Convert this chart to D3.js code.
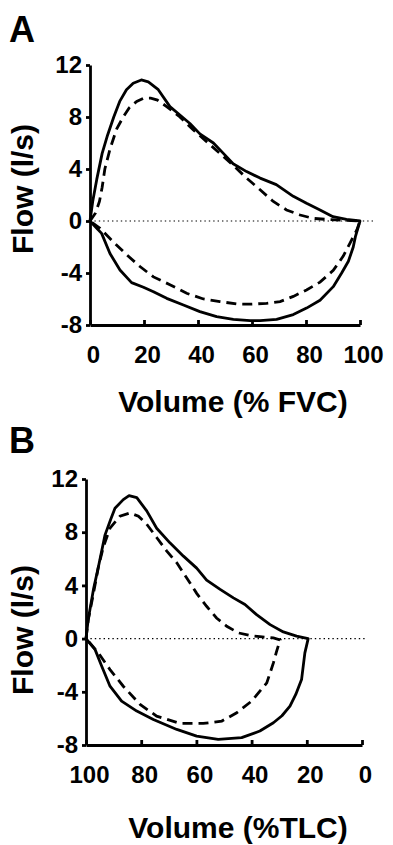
<!DOCTYPE html>
<html>
<head>
<meta charset="utf-8">
<script src="https://cdn.jsdelivr.net/npm/d3@7"></script>
<style>
  body { margin: 0; background: #fff; }
  svg text { font-family: "Liberation Sans", Arial, sans-serif; font-weight: bold; fill: #000; }
</style>
</head>
<body>
<svg id="chart" width="393" height="845"></svg>
<script>
const flowTicks = [-8, -4, 0, 4, 8, 12];
const volTicks = [0, 20, 40, 60, 80, 100];

// panel A, volume in % FVC: [volume, flow]
const aSolidExp = [[0,0],[1,1.5],[2.5,3.2],[4.5,5.2],[6.5,6.6],[8.8,8.0],[11,9.2],[13.5,10.1],[16,10.6],[19,10.85],[21.6,10.7],[25.3,10.1],[29.6,8.8],[33.3,8.15],[37,7.5],[40.7,6.7],[45.7,6.0],[49.4,5.2],[53,4.4],[58,3.8],[63,3.3],[69,2.8],[75.3,1.9],[80.2,1.36],[85.2,0.85],[90,0.33],[95,0.12],[100,0]];
const aSolidInsp = [[100,0],[98.3,-1.2],[97.5,-2],[95.7,-3.1],[93.2,-4.0],[90.1,-5.05],[85.2,-6.1],[80.2,-6.7],[75.3,-7.2],[69.1,-7.56],[63,-7.67],[59.3,-7.67],[53.1,-7.56],[46.9,-7.36],[40.7,-6.97],[34.6,-6.46],[28.4,-5.95],[23.5,-5.44],[19.8,-5.1],[15.4,-4.74],[11.1,-3.77],[7.4,-2.5],[4.3,-0.95],[2.5,-0.56],[0,0]];
const aDashExp = [[0,0],[2,0.6],[3.5,1.5],[4.5,2.6],[5.5,4],[7.5,5.6],[9.9,7.1],[12.3,8.0],[14.5,8.7],[17.3,9.2],[20,9.45],[22.5,9.45],[25,9.3],[28.4,8.8],[33.3,8.0],[38.3,7.0],[43.2,6.1],[48.1,5.2],[53,4.3],[58,3.3],[63,2.4],[67.9,1.5],[72.8,0.85],[77.8,0.46],[82.7,0.2],[87.7,0.12],[93.8,0.06],[100,0]];
const aDashInsp = [[100,0],[98.8,-0.7],[96.3,-1.7],[93.8,-2.7],[90.1,-3.8],[85.2,-4.7],[80.2,-5.3],[75.3,-5.8],[70.4,-6.2],[65.4,-6.33],[59.3,-6.4],[54.3,-6.38],[48.1,-6.2],[42,-6.0],[35.8,-5.56],[29.6,-4.9],[23.5,-4.3],[18.5,-3.5],[13.6,-2.6],[8.6,-1.6],[3.7,-0.56],[0,0]];

// panel B, volume in % TLC: [volume, flow]
const bSolidExp = [[100,0],[99.2,1.43],[97.3,3.7],[95.5,5.4],[93.1,7.8],[91,9.0],[89.5,9.8],[86.5,10.45],[84.4,10.75],[81.6,10.6],[78,9.6],[74.4,8.3],[69.6,7.2],[64.7,6.2],[59.9,5.3],[56.3,4.4],[51.4,3.7],[46.6,3.06],[42.4,2.56],[38.2,1.8],[33.3,1.05],[28.5,0.5],[23.7,0.18],[19.5,0]];
const bSolidInsp = [[19.5,0],[20.7,-1.07],[21.9,-3.08],[24,-4.2],[26.1,-5.08],[29,-5.8],[32.1,-6.33],[37,-6.95],[43.6,-7.45],[52.1,-7.58],[59.9,-7.33],[67.1,-6.83],[75.6,-6.08],[81.6,-5.45],[87.1,-4.7],[91.3,-3.58],[94.3,-2.08],[96.7,-0.83],[100,0]];
const bDashExp = [[100,0],[99.2,1.4],[97.3,3.4],[95.5,5.4],[93.7,6.9],[91.3,8.3],[87.7,9.2],[84.1,9.45],[81,9.2],[78,8.6],[74.4,7.6],[70.8,6.6],[67.1,5.7],[63.5,4.56],[59.9,3.4],[56.3,2.43],[52.7,1.55],[49,0.93],[44.8,0.43],[40.6,0.23],[37,0.15],[32.1,0.05],[29.7,-0.1]];
const bDashInsp = [[29.7,-0.1],[31,-1.0],[32.1,-1.83],[34.5,-3.33],[40,-4.7],[45.4,-5.58],[50.8,-6.2],[57.5,-6.38],[65.9,-6.38],[74.4,-5.83],[80.4,-4.95],[86.5,-3.58],[91.3,-2.33],[95.5,-1.08],[98.6,-0.33],[100,0]];

const svg = d3.select("#chart");
const FONT = "Liberation Sans, Arial, sans-serif";

const panels = [
  { letter: "A", letterY: 42, xDomain: [0, 100], xRange: [90, 360], yRange: [325, 65],
    zeroTo: 105, title: "Volume (% FVC)", titleX: 233, titleY: 412, flowY: 189,
    solid: aSolidExp.concat(aSolidInsp.slice(1)), dashed: aDashExp.concat(aDashInsp.slice(1)) },
  { letter: "B", letterY: 453, xDomain: [100, 0], xRange: [86, 362], yRange: [745, 479],
    zeroTo: -1.5, title: "Volume (%TLC)", titleX: 238, titleY: 838, flowY: 630,
    solid: bSolidExp.concat(bSolidInsp.slice(1)), dashed: bDashExp.concat(bDashInsp.slice(1)) }
];

panels.forEach(p => {
  const x = d3.scaleLinear().domain(p.xDomain).range(p.xRange);
  const y = d3.scaleLinear().domain([-8, 12]).range(p.yRange);
  const g = svg.append("g");

  // dotted zero line
  g.append("line")
    .attr("x1", x(p.xDomain[0])).attr("x2", x(p.zeroTo))
    .attr("y1", y(0)).attr("y2", y(0))
    .attr("stroke", "#000").attr("stroke-width", 1.2)
    .attr("stroke-dasharray", "1.4,3");

  const line = d3.line().x(d => x(d[0])).y(d => y(d[1]));

  g.append("path").datum(p.dashed)
    .attr("d", line).attr("fill", "none")
    .attr("stroke", "#000").attr("stroke-width", 2.8)
    .attr("stroke-dasharray", "10,6");

  g.append("path").datum(p.solid)
    .attr("d", line).attr("fill", "none")
    .attr("stroke", "#000").attr("stroke-width", 2.8)
    .attr("stroke-linejoin", "round");

  const yAxis = g.append("g")
    .attr("transform", `translate(${p.xRange[0]},0)`)
    .call(d3.axisLeft(y).tickValues(flowTicks).tickSize(4).tickSizeOuter(0)
      .tickPadding(4).tickFormat(d => String(d)));

  const xAxis = g.append("g")
    .attr("transform", `translate(0,${p.yRange[0]})`)
    .call(d3.axisBottom(x).tickValues(volTicks).tickSize(-5).tickSizeOuter(0)
      .tickPadding(21).tickFormat(d => String(d)));
  xAxis.selectAll("text").attr("dx", 3);

  [yAxis, xAxis].forEach(a => {
    a.attr("font-family", FONT).attr("font-size", 24).attr("font-weight", "bold");
    a.selectAll("path, line").attr("stroke", "#000").attr("stroke-width", 2.8);
  });

  g.append("text").attr("x", 9).attr("y", p.letterY)
    .attr("font-size", 36).text(p.letter);

  g.append("text").attr("x", p.titleX).attr("y", p.titleY)
    .attr("text-anchor", "middle").attr("font-size", 30).text(p.title);

  g.append("text")
    .attr("transform", `translate(33,${p.flowY}) rotate(-90)`)
    .attr("text-anchor", "middle").attr("font-size", 30).text("Flow (l/s)");
});
</script>
</body>
</html>
